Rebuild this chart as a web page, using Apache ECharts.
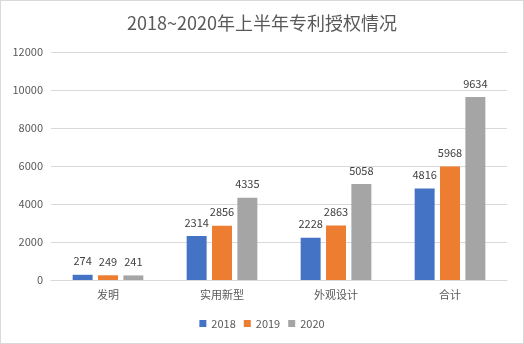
<!DOCTYPE html>
<html><head><meta charset="utf-8">
<script src="https://cdn.jsdelivr.net/npm/echarts@6/dist/echarts.min.js"></script>
<style>html,body{margin:0;padding:0;background:#fff}#c{width:524px;height:344px;box-sizing:border-box;border:1px solid #d9d9d9}</style>
</head><body><div id="c"></div>
<script>
const categories = ['发明', '实用新型', '外观设计', '合计'];
const s2018 = [274, 2314, 2228, 4816];
const s2019 = [249, 2856, 2863, 5968];
const s2020 = [241, 4335, 5058, 9634];
const seriesNames = ['2018', '2019', '2020'];
const colors = ['#4472C4', '#ED7D31', '#A5A5A5'];
const font = '"Microsoft YaHei","Noto Sans CJK SC",sans-serif';
const chart = echarts.init(document.getElementById('c'), null, {renderer: 'canvas'});
const lbl = {show: true, position: 'top', color: '#404040', fontSize: 11, fontFamily: font, distance: 8};
chart.setOption({
  animation: false,
  title: {text: '2018~2020年上半年专利授权情况', left: 'center', top: 8,
    textStyle: {color: '#595959', fontSize: 18, fontWeight: 'normal', fontFamily: font}},
  legend: {bottom: 9, itemWidth: 7, itemHeight: 7, itemGap: 8,
    textStyle: {color: '#595959', fontSize: 11, fontFamily: font},
    data: seriesNames.map(n => ({name: n, icon: 'rect'}))},
  grid: {left: 50, right: 16, top: 51, bottom: 63, containLabel: false},
  xAxis: {type: 'category', data: categories,
    axisLine: {lineStyle: {color: '#d9d9d9'}}, axisTick: {show: false},
    axisLabel: {color: '#595959', fontSize: 11, fontFamily: font, margin: 9}},
  yAxis: {type: 'value', min: 0, max: 12000, interval: 2000,
    axisLine: {show: false}, axisTick: {show: false},
    axisLabel: {color: '#595959', fontSize: 11, fontFamily: font, margin: 8, formatter: v => String(v)},
    splitLine: {lineStyle: {color: '#d9d9d9'}}},
  series: [s2018, s2019, s2020].map((d, i) => ({
    name: seriesNames[i], type: 'bar', data: d, barGap: '27%', barCategoryGap: '38%',
    itemStyle: {color: colors[i]}, label: lbl
  }))
});
</script></body></html>
